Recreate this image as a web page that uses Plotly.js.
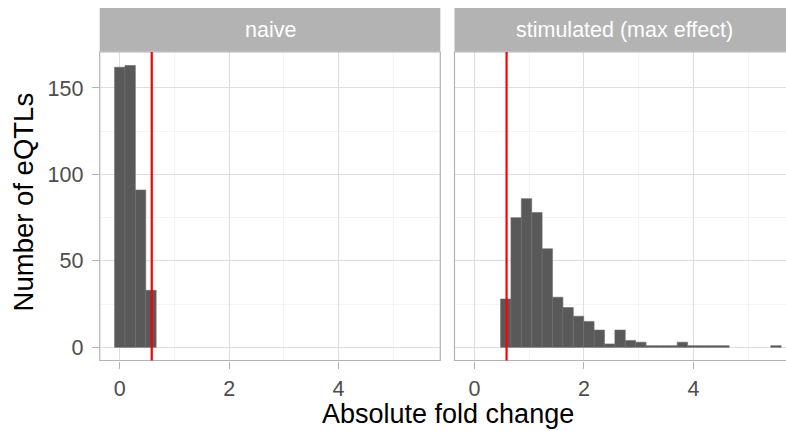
<!DOCTYPE html>
<html>
<head>
<meta charset="utf-8">
<script src="https://cdn.plot.ly/plotly-3.0.1.min.js"></script>
<style>html,body{margin:0;padding:0;overflow:hidden;background:#fff;}#chart{width:786px;height:431px;}</style>
</head>
<body>
<div id="chart"></div>
<script>
// Panel names
const panels = ["naive", "stimulated (max effect)"];
// Histogram bin centers (absolute fold change) and counts
const naiveBins = [0.00, 0.19, 0.38, 0.57];
const naiveCounts = [162, 163, 91, 33];
const stimBins = [0.57, 0.76, 0.95, 1.14, 1.33, 1.52, 1.71, 1.90, 2.09, 2.28, 2.47, 2.66, 2.85, 3.04, 3.23, 3.42, 3.61, 3.80, 3.99, 4.18, 4.37, 4.56, 5.51];
const stimCounts = [28, 75, 86, 78, 57, 29, 23, 18, 15, 10, 2, 10, 4, 3, 1, 1, 1, 3, 1, 1, 1, 1, 1];
const binWidth = 0.19;
const threshold = 0.585; // log2(1.5)
const xTickVals = [0, 2, 4];
const yTickVals = [0, 50, 100, 150];

const W = 786, H = 431;
const px = v => v / W;
const py = v => (H - v) / H;
const pL = [99.7, 440.3], pR = [454.5, 794];
const pTop = 52, pBot = 360.5;
const xRange = [-0.367, 5.86];
const scale = (pL[1] - pL[0]) / (xRange[1] - xRange[0]);
const xRange2 = [xRange[0], xRange[0] + (W - pR[0]) / scale];

const font = "Liberation Sans, Arial, Helvetica, sans-serif";
const barStyle = {color: "#595959", line: {color: "#6b6b6b", width: 0.6}};

const traces = [
  {type: "bar", x: naiveBins, y: naiveCounts, width: binWidth, marker: barStyle, xaxis: "x", yaxis: "y", hoverinfo: "x+y"},
  {type: "bar", x: stimBins, y: stimCounts, width: binWidth, marker: barStyle, xaxis: "x2", yaxis: "y2", hoverinfo: "x+y"}
];

const axisCommon = {
  showgrid: true, gridcolor: "#DEDEDE", gridwidth: 1,
  zeroline: false, showline: false,
  ticks: "outside", ticklen: 7, tickwidth: 1, tickcolor: "#B3B3B3",
  tickfont: {family: font, size: 21.5, color: "#4D4D4D"},
  minor: {showgrid: true, gridcolor: "#EDEDED", gridwidth: 0.6, ticks: ""},
  fixedrange: true
};

const layout = {
  width: W, height: H,
  margin: {l: 0, r: 0, t: 0, b: 0},
  paper_bgcolor: "#fff", plot_bgcolor: "#fff",
  showlegend: false, bargap: 0,
  xaxis: Object.assign({}, axisCommon, {domain: [px(pL[0]), px(pL[1])], range: xRange, tickvals: xTickVals, ticktext: xTickVals.map(String), minor: Object.assign({}, axisCommon.minor, {dtick: 1, tick0: 0}), anchor: "y", ticklabelstandoff: 2}),
  xaxis2: Object.assign({}, axisCommon, {domain: [px(pR[0]), 1], range: xRange2, tickvals: xTickVals, ticktext: xTickVals.map(String), minor: Object.assign({}, axisCommon.minor, {dtick: 1, tick0: 0}), anchor: "y2", ticklabelstandoff: 2}),
  yaxis: Object.assign({}, axisCommon, {domain: [py(pBot), py(pTop)], range: [-7.6, 170.8], tickvals: yTickVals, ticktext: yTickVals.map(String), minor: Object.assign({}, axisCommon.minor, {dtick: 25, tick0: 0}), anchor: "x", ticklabelstandoff: 4}),
  yaxis2: Object.assign({}, axisCommon, {domain: [py(pBot), py(pTop)], range: [-7.6, 170.8], tickvals: yTickVals, showticklabels: false, ticks: "", minor: Object.assign({}, axisCommon.minor, {dtick: 25, tick0: 0}), anchor: "x2"}),
  shapes: [
    // panel borders
    {type: "rect", xref: "paper", yref: "paper", x0: px(pL[0]), x1: px(pL[1]), y0: py(pBot), y1: py(pTop), line: {color: "#B3B3B3", width: 1.2}, fillcolor: "rgba(0,0,0,0)", layer: "above"},
    {type: "rect", xref: "paper", yref: "paper", x0: px(pR[0]), x1: px(pR[1]), y0: py(pBot), y1: py(pTop), line: {color: "#B3B3B3", width: 1.2}, fillcolor: "rgba(0,0,0,0)", layer: "above"},
    // strips
    {type: "rect", xref: "paper", yref: "paper", x0: px(pL[0]), x1: px(pL[1]), y0: py(51.7), y1: py(8), line: {width: 0}, fillcolor: "#B3B3B3"},
    {type: "rect", xref: "paper", yref: "paper", x0: px(pR[0]), x1: px(pR[1]), y0: py(51.7), y1: py(8), line: {width: 0}, fillcolor: "#B3B3B3"},
    // threshold lines
    {type: "line", xref: "x", yref: "y domain", x0: threshold, x1: threshold, y0: 0, y1: 1, line: {color: "#FF0000", width: 2.2}, layer: "above"},
    {type: "line", xref: "x2", yref: "y2 domain", x0: threshold, x1: threshold, y0: 0, y1: 1, line: {color: "#FF0000", width: 2.2}, layer: "above"}
  ],
  annotations: [
    {text: panels[0], xref: "paper", yref: "paper", x: px((pL[0] + pL[1]) / 2), y: py(29.8), showarrow: false, xanchor: "center", yanchor: "middle", font: {family: font, size: 21.5, color: "#FFFFFF"}},
    {text: panels[1], xref: "paper", yref: "paper", x: px((pR[0] + pR[1]) / 2), y: py(29.8), showarrow: false, xanchor: "center", yanchor: "middle", font: {family: font, size: 21.5, color: "#FFFFFF"}},
    {text: "Absolute fold change", xref: "paper", yref: "paper", x: px(447.5), y: py(413.5), showarrow: false, xanchor: "center", yanchor: "middle", font: {family: font, size: 27, color: "#000000"}},
    {text: "Number of eQTLs", xref: "paper", yref: "paper", x: px(23), y: py(202.4), showarrow: false, xanchor: "center", yanchor: "middle", textangle: -90, font: {family: font, size: 27.5, color: "#000000"}}
  ]
};

Plotly.newPlot("chart", traces, layout, {displayModeBar: false, staticPlot: true});
</script>
</body>
</html>
